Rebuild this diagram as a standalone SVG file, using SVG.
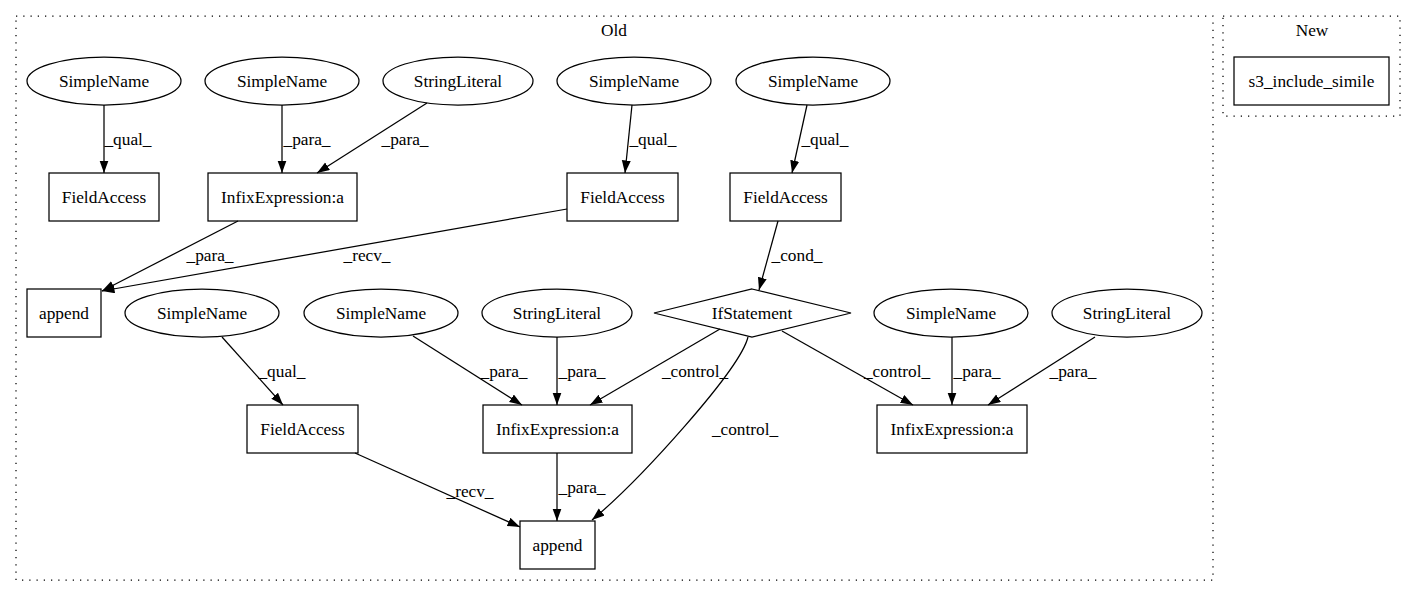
<svg xmlns="http://www.w3.org/2000/svg" width="1416" height="596" viewBox="0 0 1416 596">
<defs>
<marker id="arr" markerUnits="userSpaceOnUse" markerWidth="13" markerHeight="10" refX="12.5" refY="4.5" orient="auto"><path d="M0,0 L12.5,4.5 L0,9 z" fill="#000"/></marker>
</defs>
<style>
text{font-family:"Liberation Serif","Times New Roman",serif;font-size:17.3px;fill:#000;text-anchor:middle}
.n{fill:none;stroke:#000;stroke-width:1.25}
.e{fill:none;stroke:#000;stroke-width:1.25;marker-end:url(#arr)}
.c{fill:none;stroke:#000;stroke-width:1.25;stroke-dasharray:1.25,6}
</style>
<rect width="1416" height="596" fill="#fff"/>
<g id="cluster_old"><rect class="c" x="16" y="16" width="1197" height="564"/><text x="614" y="36">Old</text></g>
<g id="cluster_new"><rect class="c" x="1223" y="16" width="177" height="100"/><text x="1312" y="36">New</text></g>
<g id="n_new"><rect class="n" x="1234" y="57" width="155" height="48"/><text x="1311.5" y="87">s3_include_simile</text></g>

<g id="sn1"><ellipse class="n" cx="104" cy="81" rx="77" ry="24"/><text x="104" y="87">SimpleName</text></g>
<g id="sn2"><ellipse class="n" cx="282" cy="81" rx="77" ry="24"/><text x="282" y="87">SimpleName</text></g>
<g id="sl1"><ellipse class="n" cx="458" cy="81" rx="75" ry="24"/><text x="458" y="87">StringLiteral</text></g>
<g id="sn3"><ellipse class="n" cx="634" cy="81" rx="77" ry="24"/><text x="634" y="87">SimpleName</text></g>
<g id="sn4"><ellipse class="n" cx="813" cy="81" rx="77" ry="24"/><text x="813" y="87">SimpleName</text></g>

<g id="fa1"><rect class="n" x="49" y="173" width="110" height="48"/><text x="104" y="203">FieldAccess</text></g>
<g id="ie1"><rect class="n" x="208" y="173" width="149" height="48"/><text x="282.5" y="203">InfixExpression:a</text></g>
<g id="fa2"><rect class="n" x="567" y="173" width="111" height="48"/><text x="622.5" y="203">FieldAccess</text></g>
<g id="fa3"><rect class="n" x="730" y="173" width="111" height="48"/><text x="785.5" y="203">FieldAccess</text></g>

<g id="ap1"><rect class="n" x="27" y="289" width="74" height="48"/><text x="64" y="319">append</text></g>
<g id="sn5"><ellipse class="n" cx="202" cy="313" rx="77" ry="24"/><text x="202" y="319">SimpleName</text></g>
<g id="sn6"><ellipse class="n" cx="381" cy="313" rx="77" ry="24"/><text x="381" y="319">SimpleName</text></g>
<g id="sl2"><ellipse class="n" cx="557" cy="313" rx="75" ry="24"/><text x="557" y="319">StringLiteral</text></g>
<g id="if"><polygon class="n" points="752,289 851,313 752,337 654,313"/><text x="752" y="319">IfStatement</text></g>
<g id="sn7"><ellipse class="n" cx="951" cy="313" rx="77" ry="24"/><text x="951" y="319">SimpleName</text></g>
<g id="sl3"><ellipse class="n" cx="1127" cy="313" rx="75" ry="24"/><text x="1127" y="319">StringLiteral</text></g>

<g id="fa4"><rect class="n" x="247" y="405" width="111" height="48"/><text x="302.5" y="435">FieldAccess</text></g>
<g id="ie2"><rect class="n" x="483" y="405" width="149" height="48"/><text x="557.5" y="435">InfixExpression:a</text></g>
<g id="ie3"><rect class="n" x="877" y="405" width="150" height="48"/><text x="952" y="435">InfixExpression:a</text></g>

<g id="ap2"><rect class="n" x="520" y="521" width="75" height="48"/><text x="557.5" y="551">append</text></g>

<g id="edges">
<path class="e" d="M104,105 L104,173"/><text x="128" y="145">_qual_</text>
<path class="e" d="M282,105 L282,173"/><text x="307" y="145">_para_</text>
<path class="e" d="M427,103 L317,173"/><text x="405" y="145">_para_</text>
<path class="e" d="M632,105 L625,173"/><text x="653" y="145">_qual_</text>
<path class="e" d="M807,105 L792,173"/><text x="825" y="145">_qual_</text>
<path class="e" d="M238,221 L102,291"/><text x="210" y="261">_para_</text>
<path class="e" d="M567,209 L102,291"/><text x="367" y="261">_recv_</text>
<path class="e" d="M778,221 L759,290"/><text x="797" y="261">_cond_</text>
<path class="e" d="M222,337 L283,405"/><text x="282" y="377">_qual_</text>
<path class="e" d="M413,336 L522,405"/><text x="504" y="377">_para_</text>
<path class="e" d="M557,337 L557,405"/><text x="582" y="377">_para_</text>
<path class="e" d="M720,329 L590,405"/><text x="695" y="377">_control_</text>
<path class="e" d="M748,337 C740,370 640,480 592,520"/><text x="745" y="435">_control_</text>
<path class="e" d="M782,331 L913,405"/><text x="897" y="377">_control_</text>
<path class="e" d="M952,337 L952,405"/><text x="977" y="377">_para_</text>
<path class="e" d="M1095,337 L988,405"/><text x="1073" y="377">_para_</text>
<path class="e" d="M557,453 L557,521"/><text x="582" y="493">_para_</text>
<path class="e" d="M355,453 L520,527"/><text x="470" y="497">_recv_</text>
</g>
</svg>
